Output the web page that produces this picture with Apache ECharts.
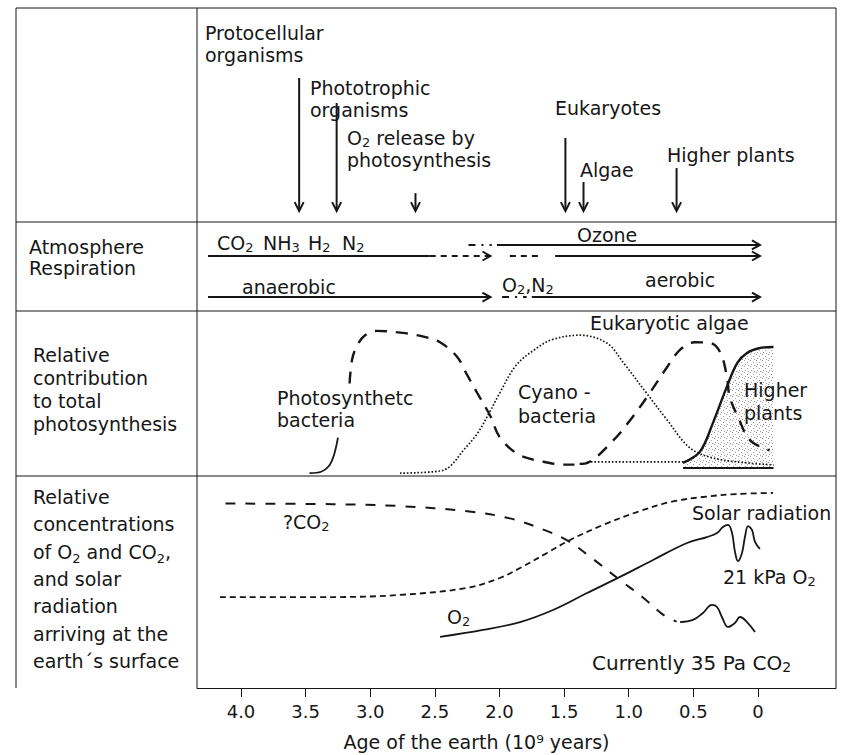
<!DOCTYPE html>
<html><head><meta charset="utf-8">
<script src="https://cdn.jsdelivr.net/npm/echarts@6/dist/echarts.min.js"></script>
<style>html,body{margin:0;padding:0;background:#fff}#c{width:841px;height:755px}</style>
</head><body><div id="c"></div>
<script>
// ---------------- data ----------------
const tickAges = [4.0, 3.5, 3.0, 2.5, 2.0, 1.5, 1.0, 0.5, 0];
const tickLabels = ['4.0', '3.5', '3.0', '2.5', '2.0', '1.5', '1.0', '0.5', '0'];
const axisTitle = 'Age of the earth (10⁹ years)';

// events (top row): age of each arrow
const eventNames = ['Protocellular organisms', 'Phototrophic organisms', 'O2 release by photosynthesis', 'Eukaryotes', 'Algae', 'Higher plants'];
const eventAges = [3.55, 3.26, 2.65, 1.49, 1.35, 0.63];

// atmosphere / respiration row: [startAge, endAge, kind(0 solid,1 dashed,2 dash-dot), arrowhead]
const ozoneSegments = [[2.24, 2.06, 2, 0], [2.02, -0.015, 0, 1]];
const gasSegments = [[4.255, 2.54, 0, 0], [2.54, 2.07, 1, 1], [1.92, 1.69, 1, 0], [1.57, -0.015, 0, 1]];
const respSegments = [[4.255, 2.07, 0, 1], [1.98, 1.79, 2, 0], [1.75, -0.015, 0, 1]];

// relative contribution to total photosynthesis: [age, relative value]
const bacteriaRise = [[3.47, 0], [3.38, 1], [3.32, 5], [3.28, 13], [3.25, 25]];
const bacteriaMain = [[3.16, 63], [3.14, 80], [3.10, 90], [3.04, 97], [2.95, 100], [2.75, 98.6], [2.58, 95.8], [2.46, 92], [2.33, 82], [2.25, 69], [2.17, 56], [2.07, 40], [2.00, 25.5], [1.87, 14], [1.76, 10], [1.66, 8], [1.51, 6], [1.42, 6]];
const cyanobacteria = [[2.77, 0], [2.46, 1.5], [2.38, 5], [2.28, 16], [2.17, 28], [2.07, 44], [2.00, 56], [1.87, 76], [1.71, 88], [1.59, 94], [1.38, 97], [1.17, 91.5], [1.04, 77.5], [0.86, 56], [0.70, 37], [0.53, 18], [0.35, 10.7], [0.085, 7.2], [-0.12, 5.8]];
const eukAlgae = [[1.38, 6.5], [1.32, 7.2], [1.12, 23], [0.97, 39.5], [0.84, 56], [0.70, 75], [0.60, 87], [0.49, 92], [0.37, 91.5], [0.29, 84.5], [0.24, 67.6], [0.22, 54], [0.155, 39.5], [0.06, 23], [-0.09, 16]];
const plantsTail = [[1.32, 7.9], [0.58, 7.9]];
const higherPlants = [[0.58, 7.2], [0.45, 15], [0.35, 35], [0.24, 61], [0.16, 77.5], [0.085, 84.5], [-0.015, 88], [-0.12, 88.7]];
const plantsBase = [[0.58, 3.7], [-0.12, 3.7]];

// relative concentrations: [age, relative level]
const co2Past = [[4.12, 87], [3.29, 86.7], [2.77, 85.8], [2.25, 83.4], [1.92, 80], [1.63, 74], [1.46, 69], [1.28, 61], [1.07, 51], [0.89, 42.7], [0.735, 34.6], [0.63, 31.3]];
const co2Now = [[0.603, 31.1], [0.503, 32.1], [0.426, 35.4], [0.356, 39.2], [0.317, 38.2], [0.279, 33.5], [0.232, 28.8], [0.178, 30.7], [0.139, 33.5], [0.085, 31.1], [0.023, 26.4]];
const solarRadiation = [[4.163, 42.9], [3.288, 42.9], [2.77, 43.9], [2.251, 47.2], [1.996, 51.9], [1.841, 56.6], [1.632, 63.7], [1.455, 69.8], [1.199, 76.9], [0.936, 83.0], [0.681, 87.7], [0.426, 90.1], [0.162, 91.5], [-0.116, 92.0]];
const oxygen = [[2.46, 24.1], [2.128, 27.4], [1.841, 31.1], [1.586, 36.8], [1.323, 44.8], [1.068, 52.4], [0.812, 60.4], [0.549, 68.4], [0.395, 71.2], [0.317, 73.1], [0.271, 75.9], [0.232, 76.9], [0.201, 73.1], [0.178, 64.2], [0.155, 59.9], [0.124, 63.7], [0.101, 71.2], [0.077, 76.4], [0.046, 74.5], [0.023, 68.9], [-0.015, 65.6]];

// ---------------- layout ----------------
const FONT = '"DejaVu Sans", "Liberation Sans", sans-serif';
const INK = '#161616';
const AGE_MIN = -0.6035, AGE_MAX = 4.3404;
const L = 197, R = 836, TOP = 8, BOT = 688, LEFT_EDGE = 16;
const rowTops = [8, 222, 311, 476];
const rowHeights = [214, 89, 165, 212];
const eventArrowTop = [0.673, 0.556, 0.135, 0.393, 0.187, 0.252];
const eventArrowBottom = 0.051;
const atmoLevels = [0.742, 0.618, 0.157];

function richText(s) { return s.replace(/_(\d)/g, '{s|$1}'); }
function txt(s, x, y, lh, size) {
  const fs = size || 19;
  return {
    type: 'text', x: x, y: y, silent: true, z: 100, zlevel: 0,
    style: {
      text: richText(s), fill: INK, fontSize: fs, fontFamily: FONT,
      align: 'left', verticalAlign: 'middle', textAlign: 'left', textVerticalAlign: 'middle',
      lineHeight: lh || 22,
      rich: { s: { fontSize: Math.round(fs * 0.68), fontFamily: FONT, fill: INK, verticalAlign: 'bottom', lineHeight: lh || 22 } }
    }
  };
}
function hline(x1, x2, y) { return { type: 'line', silent: true, z: 100, shape: { x1, y1: y, x2, y2: y }, style: { stroke: INK, lineWidth: 1 } }; }
function vline(x, y1, y2) { return { type: 'line', silent: true, z: 100, shape: { x1: x, y1, x2: x, y2 }, style: { stroke: INK, lineWidth: 1 } }; }

function stipple() {
  const c = document.createElement('canvas'); c.width = 6; c.height = 6;
  const g = c.getContext('2d'); g.fillStyle = '#ffffff'; g.fillRect(0, 0, 6, 6);
  g.fillStyle = '#9a9a9a';
  [[0, 0], [3, 2], [1, 4], [4, 5]].forEach(p => g.fillRect(p[0], p[1], 1, 1));
  return c.toDataURL();
}

const grids = rowTops.map((t, i) => ({ left: L, right: 841 - R, top: t, height: rowHeights[i], containLabel: false }));
const xAxes = rowTops.map((t, i) => {
  const base = { type: 'value', gridIndex: i, min: AGE_MIN, max: AGE_MAX, inverse: true, splitLine: { show: false } };
  if (i < 3) return Object.assign(base, { show: false });
  return Object.assign(base, {
    show: true,
    axisLine: { show: true, lineStyle: { color: INK, width: 1 } },
    axisTick: { show: true, customValues: tickAges, length: 9, inside: false, lineStyle: { color: INK, width: 1 } },
    axisLabel: { show: true, customValues: tickAges, margin: 14, color: INK, fontSize: 18, fontFamily: FONT,
      formatter: v => { const k = tickAges.findIndex(t => Math.abs(t - v) < 1e-6); return k >= 0 ? tickLabels[k] : ''; } },
    name: axisTitle, nameLocation: 'middle', nameGap: 44,
    nameTextStyle: { color: INK, fontSize: 19, fontFamily: FONT, padding: [0, 80, 0, 0] }
  });
});
const yAxes = [
  { type: 'value', gridIndex: 0, min: 0, max: 1, show: false },
  { type: 'value', gridIndex: 1, min: 0, max: 1, show: false },
  { type: 'value', gridIndex: 2, min: -2, max: 114, show: false },
  { type: 'value', gridIndex: 3, min: 0, max: 100, show: false }
];

function lineSeries(name, data, grid, style, extra) {
  return Object.assign({
    type: 'line', name, data, xAxisIndex: grid, yAxisIndex: grid, showSymbol: false, symbol: 'none',
    smooth: 0.35, silent: true, animation: false,
    lineStyle: Object.assign({ color: INK, width: 2 }, style)
  }, extra || {});
}

const eventSeries = {
  type: 'custom', name: 'events', xAxisIndex: 0, yAxisIndex: 0, silent: true, animation: false,
  data: eventAges.map((a, i) => [a, eventArrowTop[i], eventArrowBottom]),
  encode: { x: 0, y: [1, 2] },
  renderItem(params, api) {
    const t = api.coord([api.value(0), api.value(1)]);
    const b = api.coord([api.value(0), api.value(2)]);
    return { type: 'group', children: [
      { type: 'line', shape: { x1: t[0], y1: t[1], x2: b[0], y2: b[1] - 1 }, style: { stroke: INK, lineWidth: 2 } },
      { type: 'polyline', shape: { points: [[b[0] - 4.5, b[1] - 9], [b[0], b[1]], [b[0] + 4.5, b[1] - 9]] }, style: { stroke: INK, lineWidth: 2, fill: null } }
    ] };
  }
};

const atmoRows = [];
[ozoneSegments, gasSegments, respSegments].forEach((segs, li) => segs.forEach(s => atmoRows.push([s[0], s[1], atmoLevels[li], s[2], s[3]])));
const dashes = [null, [6, 5], [7, 6, 2, 6]];
const atmoSeries = {
  type: 'custom', name: 'atmosphere', xAxisIndex: 1, yAxisIndex: 1, silent: true, animation: false,
  data: atmoRows, encode: { x: [0, 1], y: 2 },
  renderItem(params, api) {
    const p1 = api.coord([api.value(0), api.value(2)]);
    const p2 = api.coord([api.value(1), api.value(2)]);
    const kind = api.value(3), arrow = api.value(4);
    const st = { stroke: INK, lineWidth: 2 };
    if (dashes[kind]) st.lineDash = dashes[kind];
    const ch = [{ type: 'line', shape: { x1: p1[0], y1: p1[1], x2: p2[0] - (arrow ? 1 : 0), y2: p2[1] }, style: st }];
    if (arrow) ch.push({ type: 'polyline', shape: { points: [[p2[0] - 8, p2[1] - 4.5], [p2[0], p2[1]], [p2[0] - 8, p2[1] + 4.5]] }, style: { stroke: INK, lineWidth: 2, fill: null } });
    return { type: 'group', children: ch };
  }
};

const series = [
  eventSeries, atmoSeries,
  lineSeries('Photosynthetic bacteria (rise)', bacteriaRise, 2, { width: 1.8 }),
  lineSeries('Photosynthetic bacteria', bacteriaMain, 2, { width: 2.4, type: [12, 9] }),
  lineSeries('Cyanobacteria', cyanobacteria, 2, { width: 1.7, type: [1.6, 1.9] }),
  lineSeries('Eukaryotic algae', eukAlgae, 2, { width: 2.4, type: [12, 9] }),
  lineSeries('Higher plants (early)', plantsTail, 2, { width: 1.7, type: [1.6, 1.9] }, { smooth: false }),
  lineSeries('Higher plants', higherPlants, 2, { width: 2.4 }, {
    z: 1,
    areaStyle: { origin: 3.7, opacity: 1, color: { image: stipple(), repeat: 'repeat', imageWidth: 6, imageHeight: 6 } }
  }),
  lineSeries('Higher plants base', plantsBase, 2, { width: 2 }, { smooth: false }),
  lineSeries('CO2', co2Past, 3, { width: 2, type: [10, 10] }),
  lineSeries('CO2 now', co2Now, 3, { width: 1.8 }, { smooth: 0.4 }),
  lineSeries('Solar radiation', solarRadiation, 3, { width: 1.8, type: [6, 4] }),
  lineSeries('O2', oxygen, 3, { width: 1.8 }, { smooth: 0.4 })
];

const graphics = [
  hline(LEFT_EDGE, R, TOP), vline(LEFT_EDGE, TOP, BOT), vline(R, TOP, BOT), vline(L, TOP, BOT),
  hline(LEFT_EDGE, R, 222), hline(LEFT_EDGE, R, 311), hline(LEFT_EDGE, R, 476),
  // top row labels
  txt('Protocellular\norganisms', 205, 44), txt('Phototrophic\norganisms', 310, 99),
  txt('O_2 release by\nphotosynthesis', 347, 149), txt('Eukaryotes', 555, 108),
  txt('Algae', 580, 170), txt('Higher plants', 667, 155),
  // atmosphere row
  txt('Atmosphere\nRespiration', 29, 257.5, 21),
  txt('CO_2', 217, 243), txt('NH_3', 263, 243), txt('H_2', 308, 243), txt('N_2', 342, 243),
  txt('Ozone', 577, 235), txt('anaerobic', 242, 287), txt('O_2,N_2', 502, 285), txt('aerobic', 645, 280),
  // photosynthesis row
  txt('Relative\ncontribution\nto total\nphotosynthesis', 33, 389.5, 23),
  txt('Photosynthetc\nbacteria', 277, 409, 22), txt('Cyano -\nbacteria', 518, 404, 24),
  txt('Eukaryotic algae', 590, 323), txt('Higher\nplants', 744, 401, 23),
  // concentrations row
  txt('Relative\nconcentrations\nof O_2 and CO_2,\nand solar\nradiation\narriving at the\nearth´s surface', 33, 579, 27.3),
  txt('?CO_2', 283, 522), txt('O_2', 447, 617), txt('Solar radiation', 692, 513),
  txt('21 kPa O_2', 723, 577), txt('Currently 35 Pa CO_2', 592, 663, 22, 20)
];

const chart = echarts.init(document.getElementById('c'), null, { renderer: 'svg', width: 841, height: 755 });
chart.setOption({
  animation: false, backgroundColor: '#ffffff',
  grid: grids, xAxis: xAxes, yAxis: yAxes, series, graphic: { elements: graphics }
});
</script></body></html>
